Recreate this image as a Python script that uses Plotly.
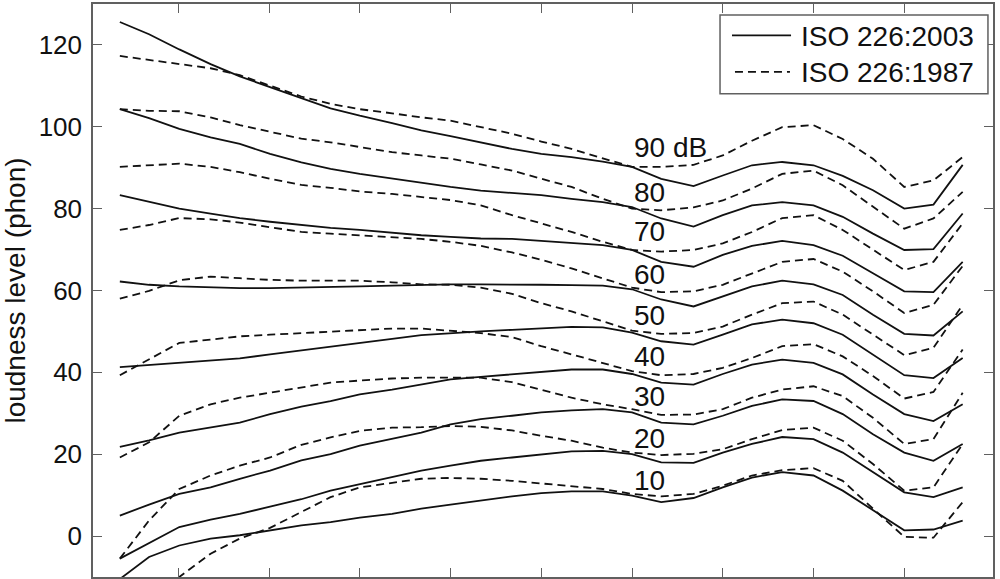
import plotly.graph_objects as go

freqs = [20, 25, 31.5, 40, 50, 63, 80, 100, 125, 160, 200, 250, 315, 400, 500,
         630, 800, 1000, 1250, 1600, 2000, 2500, 3150, 4000, 5000, 6300, 8000, 10000, 12500]

# ISO 226:2003 (solid)
s90 = [125.6, 122.6, 118.9, 115.3, 112.3, 109.6, 107.0, 104.5, 102.7, 100.9, 99.1, 97.7, 96.2, 94.6, 93.4,
       92.6, 91.5, 90.2, 87.3, 85.5, 88.1, 90.6, 91.4, 90.6, 88.0, 84.5, 80.0, 81.0, 90.7]
s80 = [104.3, 102.1, 99.5, 97.4, 95.8, 93.4, 91.3, 89.7, 88.5, 87.3, 86.3, 85.3, 84.4, 83.9, 83.3,
       82.4, 81.6, 80.4, 77.6, 75.6, 78.4, 80.8, 81.6, 80.8, 78.0, 73.9, 69.9, 70.1, 78.8]
s70 = [83.3, 81.6, 80.0, 78.8, 77.7, 76.8, 76.0, 75.3, 74.8, 74.1, 73.5, 73.1, 72.7, 72.6, 72.1,
       71.7, 71.1, 69.9, 67.0, 65.8, 68.7, 70.9, 72.1, 71.1, 68.5, 64.2, 59.8, 59.6, 67.0]
s60 = [62.2, 61.4, 61.0, 60.7, 60.6, 60.6, 60.7, 60.8, 61.0, 61.2, 61.4, 61.5, 61.5, 61.5, 61.4,
       61.3, 61.2, 60.3, 57.8, 56.1, 58.5, 61.0, 62.4, 61.5, 58.9, 54.1, 49.4, 49.0, 54.9]
s50 = [41.3, 41.8, 42.3, 42.9, 43.4, 44.4, 45.4, 46.4, 47.3, 48.2, 49.1, 49.6, 50.0, 50.4, 50.8,
       51.1, 51.0, 49.7, 47.6, 46.8, 49.2, 51.7, 52.9, 52.0, 49.2, 44.4, 39.3, 38.6, 43.5]
s40 = [21.8, 23.4, 25.3, 26.5, 27.7, 29.8, 31.6, 33.0, 34.6, 35.8, 37.1, 38.3, 38.9, 39.5, 40.1,
       40.7, 40.7, 39.6, 37.5, 37.0, 39.6, 41.9, 43.1, 42.3, 39.5, 34.6, 29.8, 28.1, 32.2]
s30 = [5.0, 7.7, 10.3, 11.9, 14.0, 16.0, 18.5, 20.0, 22.1, 23.7, 25.3, 27.3, 28.6, 29.4, 30.2,
       30.7, 31.0, 30.2, 27.7, 27.3, 29.4, 31.8, 33.4, 33.0, 29.8, 24.9, 20.4, 18.4, 22.5]
s20 = [-5.5, -1.8, 2.2, 4.0, 5.4, 7.2, 9.0, 11.1, 12.7, 14.3, 16.0, 17.2, 18.4, 19.2, 20.0,
       20.7, 20.8, 20.0, 18.0, 17.9, 20.4, 22.5, 24.2, 23.7, 20.4, 15.6, 10.7, 9.5, 11.9]
s10 = [-10.5, -5.1, -2.3, -0.6, 0.2, 1.4, 2.6, 3.4, 4.5, 5.4, 6.7, 7.7, 8.7, 9.7, 10.5,
       10.9, 10.9, 9.9, 8.3, 9.3, 11.9, 14.3, 15.6, 14.8, 11.1, 6.3, 1.4, 1.6, 3.8]

# ISO 226:1987 (dashed)
d90 = [117.3, 116.3, 115.3, 114.3, 112.6, 110.0, 107.4, 105.6, 104.3, 103.3, 102.3, 101.5, 100.0, 98.3, 96.4,
       94.6, 92.3, 90.2, 90.2, 90.7, 93.0, 96.6, 99.9, 100.4, 97.0, 92.2, 85.3, 86.9, 92.6]
d80 = [104.3, 103.9, 103.8, 102.3, 100.4, 98.7, 97.1, 96.2, 95.0, 93.8, 93.0, 92.2, 90.8, 89.3, 87.3,
       85.3, 82.4, 80.0, 79.6, 80.3, 82.0, 84.9, 88.5, 89.3, 85.7, 80.4, 75.1, 77.6, 84.1]
d70 = [90.2, 90.6, 91.0, 90.2, 88.9, 87.3, 85.8, 85.1, 84.2, 83.6, 82.9, 82.1, 80.8, 78.4, 76.4,
       74.3, 71.9, 69.9, 69.5, 69.9, 71.5, 74.3, 77.7, 78.4, 74.8, 69.9, 65.0, 67.0, 76.4]
d60 = [74.8, 76.0, 77.7, 77.4, 76.6, 75.4, 74.3, 73.9, 73.5, 73.1, 72.6, 71.9, 70.9, 69.3, 67.5,
       65.4, 63.0, 60.7, 59.6, 59.8, 61.4, 64.2, 67.0, 67.7, 64.6, 59.8, 54.5, 56.5, 66.0]
d50 = [58.0, 59.9, 62.5, 63.4, 63.0, 62.6, 62.4, 62.4, 62.4, 62.0, 61.5, 61.4, 60.7, 59.2, 56.9,
       54.9, 52.5, 50.2, 49.4, 49.6, 51.2, 54.1, 56.9, 57.3, 54.1, 49.2, 44.2, 46.0, 56.5]
d40 = [39.3, 43.1, 47.2, 48.0, 48.8, 49.2, 49.6, 50.0, 50.4, 50.7, 50.7, 50.2, 49.6, 48.6, 46.4,
       44.4, 42.3, 40.3, 39.3, 39.6, 41.1, 43.5, 46.4, 46.9, 43.9, 39.1, 33.6, 35.2, 45.6]
d30 = [19.2, 22.9, 29.4, 32.2, 33.8, 35.0, 36.2, 37.5, 38.0, 38.5, 38.7, 38.7, 38.7, 37.6, 35.8,
       33.8, 32.2, 31.0, 29.6, 29.7, 31.0, 33.8, 35.8, 36.6, 34.2, 28.9, 22.5, 23.7, 35.0]
d20 = [-5.5, 3.8, 11.5, 14.8, 17.2, 19.2, 22.3, 24.1, 25.7, 26.5, 26.6, 26.9, 26.7, 25.8, 24.5,
       23.3, 21.6, 20.4, 19.8, 20.1, 21.2, 23.7, 25.9, 26.5, 23.3, 17.6, 11.1, 11.9, 22.5]
d10 = [-23.0, -16.5, -10.0, -4.3, -0.6, 2.0, 5.8, 9.5, 11.9, 13.1, 14.0, 14.2, 14.0, 13.5, 12.9,
       12.3, 11.5, 10.3, 9.7, 10.3, 12.3, 14.8, 16.1, 16.6, 13.5, 6.7, -0.2, -0.4, 8.3]

solid_curves = [s90, s80, s70, s60, s50, s40, s30, s20, s10]
dashed_curves = [d90, d80, d70, d60, d50, d40, d30, d20, d10]

level_labels = ["90 dB", "80", "70", "60", "50", "40", "30", "20", "10"]
label_y = [95.0, 83.9, 74.3, 64.0, 53.9, 43.9, 34.0, 23.9, 13.7]
label_freq = 1000

x_ticks = [31.25, 62.5, 125, 250, 500, 1000, 2000, 4000, 8000]
y_ticks = [0, 20, 40, 60, 80, 100, 120]

legend_names = ["ISO 226:2003", "ISO 226:1987"]

FONT = "Liberation Sans, Arial, Helvetica, sans-serif"
LINE_COLOR = "#111111"
AXIS_COLOR = "#606060"
LW = 1.8

fig = go.Figure()
for ys in dashed_curves:
    fig.add_trace(go.Scatter(x=freqs, y=ys, mode="lines", name=legend_names[1], showlegend=False,
                             line=dict(color=LINE_COLOR, width=LW, dash="8px,5px")))
for ys in solid_curves:
    fig.add_trace(go.Scatter(x=freqs, y=ys, mode="lines", name=legend_names[0], showlegend=False,
                             line=dict(color=LINE_COLOR, width=LW)))

for txt, yv in zip(level_labels, label_y):
    fig.add_annotation(x=3.0, y=yv, xref="x", yref="y", text=txt, showarrow=False,
                       xanchor="left", yanchor="middle", xshift=0,
                       font=dict(family=FONT, size=28, color="#111111"))

fig.add_annotation(x=459, y=119.3, xref="x", yref="y", text="(a)", showarrow=False,
                   xanchor="center", yanchor="middle",
                   font=dict(family=FONT, size=28, color="#111111"))

# legend box (drawn manually to match the long line samples)
fig.add_shape(type="rect", xref="paper", yref="paper", x0=0.6967, x1=0.9944, y0=0.8435, y1=0.9809,
              line=dict(color=AXIS_COLOR, width=1.5), fillcolor="white", layer="above")
fig.add_shape(type="line", xref="paper", yref="paper", x0=0.710, x1=0.7756, y0=0.9452, y1=0.9452,
              line=dict(color=LINE_COLOR, width=LW), layer="above")
fig.add_shape(type="line", xref="paper", yref="paper", x0=0.7133, x1=0.7744, y0=0.8817, y1=0.8817,
              line=dict(color=LINE_COLOR, width=LW, dash="8px,5px"), layer="above")
for name, yp in zip(legend_names, [0.9426, 0.8800]):
    fig.add_annotation(x=0.7844, y=yp, xref="paper", yref="paper", text=name, showarrow=False,
                       xanchor="left", yanchor="middle",
                       font=dict(family=FONT, size=28, color="#111111"))

fig.update_xaxes(type="log", range=[1.212, 4.1975], tickvals=x_ticks, showticklabels=False,
                 ticks="inside", ticklen=9, tickcolor=AXIS_COLOR, tickwidth=1.2,
                 showline=True, linecolor=AXIS_COLOR, linewidth=1.5, mirror="ticks",
                 showgrid=False, zeroline=False)
fig.update_yaxes(range=[-10, 130], tickvals=y_ticks,
                 ticks="inside", ticklen=9, tickcolor=AXIS_COLOR, tickwidth=1.2,
                 showline=True, linecolor=AXIS_COLOR, linewidth=1.5, mirror="ticks",
                 showgrid=False, zeroline=False, ticklabelstandoff=4,
                 tickfont=dict(family=FONT, size=26, color="#111111"),
                 title=dict(text="loudness level (phon)", standoff=8,
                            font=dict(family=FONT, size=28, color="#111111")))

fig.update_layout(width=1000, height=579, margin=dict(l=93, r=7, t=2, b=2),
                  plot_bgcolor="white", paper_bgcolor="white", showlegend=False)

fig.write_html("out.html", config={"displayModeBar": False},
               post_script="document.body.style.margin='0px';document.body.style.padding='0px';")
